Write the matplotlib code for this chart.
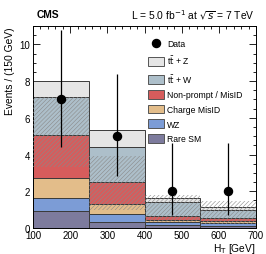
import numpy as np
import matplotlib
matplotlib.use('Agg')
import matplotlib.pyplot as plt
from matplotlib.patches import Patch
from matplotlib.lines import Line2D
from matplotlib.ticker import MultipleLocator

plt.rcParams['font.family'] = ['Liberation Sans', 'DejaVu Sans']
plt.rcParams['hatch.linewidth'] = 0.4

# ---- data ----
bin_edges = [100, 250, 400, 550, 700]
rare_sm = [0.95, 0.30, 0.15, 0.12]
wz = [0.71, 0.47, 0.15, 0.13]
charge_misid = [1.04, 0.56, 0.12, 0.15]
nonprompt = [2.38, 1.15, 0.23, 0.15]
ttw = [2.06, 1.95, 0.77, 0.45]
ttz = [0.86, 0.91, 0.22, 0.12]
unc_lo = [3.3, 1.0, 0.3, 0.2]
unc_hi = [7.14, 3.9, 1.78, 1.45]

data = [7, 5, 2, 2]
data_err_lo = [2.6, 2.16, 1.29, 1.29]
data_err_hi = [3.77, 3.38, 2.64, 2.64]

labels = ['t$\\bar{\\rm t}$ + Z', 't$\\bar{\\rm t}$ + W', 'Non-prompt / MisID',
          'Charge MisID', 'WZ', 'Rare SM']
colors = ['#e5e5e5', '#adbfca', '#d65c5c', '#e3bd8a', '#7c9cd6', '#7d7b9d']

fs = 6.2

fig = plt.figure(figsize=(2.66, 2.55), dpi=100)
ax = fig.add_axes([33/266, 1-229/255, (256-33)/266, (229-27)/255])

left = np.array(bin_edges[:-1])
width = np.diff(bin_edges)
centers = left + width/2

# stack from bottom: rare, wz, charge, nonprompt, ttw, ttz
stack = [rare_sm, wz, charge_misid, nonprompt, ttw, ttz]
stack_colors = colors[::-1]
bottom = np.zeros(len(left))
for vals, c in zip(stack, stack_colors):
    ax.bar(left, vals, width=width, bottom=bottom, align='edge', color=c,
           edgecolor='#3a3a3a', linewidth=0.7, zorder=2)
    bottom = bottom + np.array(vals)

# uncertainty band
ax.bar(left, np.array(unc_hi) - np.array(unc_lo), width=width, bottom=unc_lo,
       align='edge', fill=False, hatch='////////', edgecolor='#8a8a8a',
       linewidth=0, zorder=3)

# data
ax.errorbar(centers, data, yerr=[data_err_lo, data_err_hi], fmt='o', color='k',
            markersize=5.8, elinewidth=0.9, capsize=0, zorder=5)

ax.set_xlim(100, 700)
ax.set_ylim(0, 11.0)
ax.xaxis.set_major_locator(MultipleLocator(100))
ax.xaxis.set_minor_locator(MultipleLocator(20))
ax.yaxis.set_major_locator(MultipleLocator(2))
ax.yaxis.set_minor_locator(MultipleLocator(0.5))
ax.tick_params(which='both', direction='in', top=True, right=True,
               labelsize=fs+0.8, width=0.6)
ax.tick_params(axis='x', pad=1.5)
ax.tick_params(axis='y', pad=2)
ax.tick_params(which='major', length=5)
ax.tick_params(which='minor', length=2.5)
for s in ax.spines.values():
    s.set_linewidth(0.7)

ax.set_xlabel('H$_{\\rm T}$ [GeV]', fontsize=fs+1.2, ha='right')
ax.xaxis.set_label_coords(1.0, -0.066)
ax.set_ylabel('Events / (150 GeV)', fontsize=fs+1.2, loc='top', labelpad=3)

fig.text(37/266, 1-15/255, 'CMS', fontsize=fs+1.2, fontweight='bold',
         va='center', ha='left')
fig.text(255/266, 1-15/255, 'L = 5.0 fb$^{-1}$ at $\\sqrt{s}$ = 7 TeV',
         fontsize=fs+1.2, va='center', ha='right')

handles = [Line2D([], [], marker='o', color='k', linestyle='none', markersize=5.8)]
handles += [Patch(facecolor=c, edgecolor='#555555', linewidth=0.7) for c in colors]
ax.legend(handles, ['Data'] + labels, loc='upper left', frameon=False,
          bbox_to_anchor=(148/266, 1-40/255), bbox_transform=fig.transFigure,
          borderpad=0, borderaxespad=0, fontsize=fs, handlelength=1.8,
          handleheight=1.2, labelspacing=0.62, handletextpad=0.4)

fig.savefig('out.png', dpi=100)
